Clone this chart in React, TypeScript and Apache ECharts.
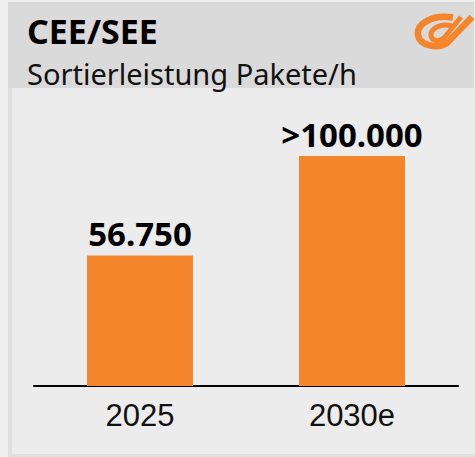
import React, { useEffect, useRef } from "react";
import * as echarts from "echarts";

const categories = ["2025", "2030e"];
const values = [56750, 100000];
const valueLabels = ["56.750", ">100.000"];
const titleText = "CEE/SEE";
const subtitleText = "Sortierleistung Pakete/h";

const ORANGE = "#f4852a";

echarts.graphic.registerShape(
  "postLogoOuter",
  echarts.graphic.extendPath(
    "M 453 17.5 C 432 14 416.5 24 418 35 C 419.5 46 438 49 447 43 L 472 17",
    {}
  )
);
echarts.graphic.registerShape(
  "postLogoInner",
  echarts.graphic.extendPath(
    "M 452 26 C 441 22.5 430 29 431 36 C 432 41.5 439 42 444 38 L 461 17",
    {}
  )
);

export default function App() {
  const ref = useRef<HTMLDivElement>(null);
  useEffect(() => {
    document.body.style.margin = "0";
    const chart = echarts.init(ref.current!, undefined, { renderer: "svg" });
    chart.setOption({
      animation: false,
      backgroundColor: "#efefef",
      graphic: [
        { type: "rect", z: -10, shape: { x: 8, y: 2, width: 466, height: 86 }, style: { fill: "#dadada" } },
        { type: "rect", z: -10, shape: { x: 8, y: 88, width: 4, height: 369 }, style: { fill: "#dfdfdf" } },
        { type: "rect", z: -10, shape: { x: 8, y: 454, width: 467, height: 3 }, style: { fill: "#dfdfdf" } },
        { type: "rect", z: -10, shape: { x: 12, y: 88, width: 463, height: 366 }, style: { fill: "#ececec" } },
        {
          type: "text",
          x: 27,
          y: 30.5,
          style: {
            text: titleText,
            fill: "#000",
            font: "bold 34px 'Noto Sans', sans-serif",
            verticalAlign: "middle",
          },
        },
        {
          type: "text",
          x: 27,
          y: 73,
          style: {
            text: subtitleText,
            fill: "#111",
            font: "29px 'Noto Sans', sans-serif",
            verticalAlign: "middle",
          },
        },
        {
          type: "postLogoOuter",
          x: 0,
          y: 0,
          style: { fill: "none", stroke: ORANGE, lineWidth: 6.5, lineCap: "butt" },
        },
        {
          type: "postLogoInner",
          x: 0,
          y: 0,
          style: { fill: "none", stroke: ORANGE, lineWidth: 5, lineCap: "butt" },
        },
      ],
      grid: { left: 34, right: 17, top: 156, bottom: 71 },
      xAxis: {
        type: "category",
        data: categories,
        axisLine: { lineStyle: { color: "#000", width: 2 } },
        axisTick: { show: false },
        axisLabel: {
          color: "#111",
          fontSize: 31,
          fontFamily: "'Liberation Sans', Arial, sans-serif",
          margin: 14,
        },
      },
      yAxis: {
        type: "value",
        min: 0,
        max: 100000,
        show: false,
        splitLine: { show: false },
      },
      series: [
        {
          type: "bar",
          data: values,
          barWidth: "50%",
          itemStyle: { color: ORANGE },
          label: {
            show: true,
            position: "top",
            distance: 5,
            color: "#000",
            fontSize: 33,
            fontWeight: "bold",
            fontFamily: "'Noto Sans', sans-serif",
            formatter: (p: any) => valueLabels[p.dataIndex],
          },
        },
      ],
    });
    return () => chart.dispose();
  }, []);
  return (
    <div
      ref={ref}
      style={{ position: "fixed", left: 0, top: 0, width: 475, height: 457 }}
    />
  );
}
